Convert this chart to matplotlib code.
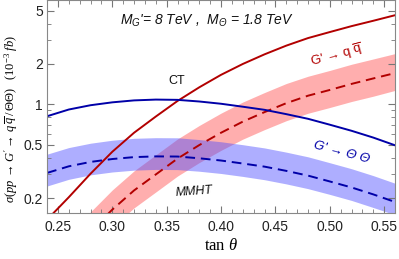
import numpy as np
import matplotlib
matplotlib.use('Agg')
import matplotlib.pyplot as plt
from matplotlib.ticker import FixedLocator, NullFormatter

plt.rcParams['font.family'] = ['Liberation Sans', 'DejaVu Sans']
plt.rcParams['mathtext.fontset'] = 'custom'
plt.rcParams['mathtext.rm'] = 'Liberation Serif'
plt.rcParams['mathtext.it'] = 'Liberation Serif:italic'
plt.rcParams['mathtext.sf'] = 'Liberation Sans'
plt.rcParams['mathtext.tt'] = 'Liberation Sans:italic'

# tan(theta) grid the curves were read on
tan_blue = [0.24, 0.26, 0.28, 0.30, 0.32, 0.34, 0.36, 0.38, 0.40,
            0.42, 0.44, 0.46, 0.48, 0.50, 0.52, 0.54, 0.56]
tan_red = tan_blue

# G' -> q qbar, CT (solid)
qq_ct = [0.138, 0.203, 0.304, 0.443, 0.614, 0.811, 1.06, 1.34, 1.66,
         2.00, 2.36, 2.74, 3.12, 3.46, 3.83, 4.20, 4.62]
# G' -> q qbar, MMHT (dashed) and band
qq_mmht = [0.051, 0.075, 0.113, 0.164, 0.228, 0.300, 0.394, 0.497, 0.614,
           0.743, 0.875, 1.02, 1.16, 1.28, 1.42, 1.56, 1.71]
qq_hi = [0.072, 0.105, 0.158, 0.230, 0.319, 0.420, 0.552, 0.696, 0.860,
         1.04, 1.225, 1.43, 1.62, 1.79, 1.99, 2.18, 2.39]
qq_lo = [0.038, 0.056, 0.084, 0.121, 0.169, 0.222, 0.292, 0.368, 0.454,
         0.550, 0.648, 0.755, 0.858, 0.947, 1.05, 1.15, 1.27]

# G' -> Theta Theta, CT (solid)
tt_ct = [0.815, 0.915, 0.985, 1.035, 1.07, 1.085, 1.08, 1.05, 1.01,
         0.96, 0.91, 0.845, 0.78, 0.705, 0.635, 0.565, 0.495]
# G' -> Theta Theta, MMHT (dashed) and band
tt_mmht = [0.308, 0.345, 0.372, 0.391, 0.404, 0.409, 0.408, 0.396, 0.381,
           0.362, 0.343, 0.319, 0.294, 0.266, 0.240, 0.213, 0.187]
tt_hi = [0.425, 0.476, 0.513, 0.540, 0.558, 0.564, 0.563, 0.546, 0.526,
         0.500, 0.473, 0.440, 0.406, 0.367, 0.331, 0.294, 0.258]
tt_lo = [0.246, 0.276, 0.298, 0.313, 0.323, 0.327, 0.326, 0.317, 0.305,
         0.290, 0.274, 0.255, 0.235, 0.213, 0.192, 0.170, 0.150]

y_major = [0.2, 0.5, 1, 2, 5]
y_major_labels = ['0.2', '0.5', '1', '2', '5']
y_minor = [0.3, 0.4, 0.6, 0.7, 0.8, 0.9, 3, 4]
x_major = [0.25, 0.30, 0.35, 0.40, 0.45, 0.50, 0.55]

red = '#b20000'
blue = '#0000a8'

fig = plt.figure(figsize=(3.99, 2.59), dpi=100)
ax = fig.add_axes([0.118, 0.178, 0.872, 0.822])

ax.fill_between(tan_red, qq_lo, qq_hi, color='#ff4d4d', alpha=0.45, lw=0)
ax.fill_between(tan_blue, tt_lo, tt_hi, color='#4d4dff', alpha=0.45, lw=0)

ax.plot(tan_red, qq_ct, color=red, lw=1.4)
ax.plot(tan_red, qq_mmht, color=red, lw=1.4, dashes=(5, 3))
ax.plot(tan_blue, tt_ct, color=blue, lw=1.4)
ax.plot(tan_blue, tt_mmht, color=blue, lw=1.4, dashes=(5, 3))

ax.set_yscale('log')
ax.set_xlim(0.24, 0.56)
ax.set_ylim(0.155, 6.0)

ax.yaxis.set_major_locator(FixedLocator(y_major))
ax.set_yticklabels(y_major_labels)
ax.yaxis.set_minor_locator(FixedLocator(y_minor))
ax.yaxis.set_minor_formatter(NullFormatter())
ax.set_xticks(x_major)
ax.set_xticklabels(['%.2f' % v for v in x_major])
ax.set_xticks(np.arange(0.24, 0.561, 0.01), minor=True)

ax.tick_params(which='both', direction='in', top=True, right=True,
               color='#777777', labelsize=10, labelcolor='#222222')
ax.tick_params(which='major', length=5, width=0.8)
ax.tick_params(which='minor', length=3, width=0.6)
ax.tick_params(axis='x', pad=5)
ax.tick_params(axis='y', pad=3)
for s in ax.spines.values():
    s.set_color('#888888')
    s.set_linewidth(0.8)

ax.set_xlabel(r'$\tan\,\theta$', fontsize=12)
ax.xaxis.set_label_coords(0.5, -0.115)
ax.set_ylabel(r"$\sigma(pp\,\rightarrow\,G'\rightarrow\,q\,\overline{q}\,/\,\Theta\Theta)\ \ \ (10^{-3}\ fb)$",
              fontsize=9)
ax.yaxis.set_label_coords(-0.078, 0.44)

ax.text(0.46, 0.90, r"M$_{\mathtt{G}}$'= 8 TeV ,  M$_{\mathtt{\Theta}}$ = 1.8 TeV",
        transform=ax.transAxes, ha='center', va='center', fontsize=10,
        style='italic', color='#111111')
ax.text(0.359, 1.5, 'CT', ha='center', va='center', fontsize=9, color='#111111')
ax.text(0.375, 0.223, 'MMHT', ha='center', va='center', fontsize=9,
        style='italic', rotation=4, color='#111111')
ax.text(0.506, 2.31, "G' → q $\\overline{\\mathsf{q}}$", ha='center',
        va='center', fontsize=9.5, rotation=15, color=red)
ax.text(0.511, 0.44, "G' → Θ Θ", ha='center', va='center', fontsize=9.5,
        style='italic', rotation=-15, color=blue)

fig.savefig('out.png', dpi=100)
